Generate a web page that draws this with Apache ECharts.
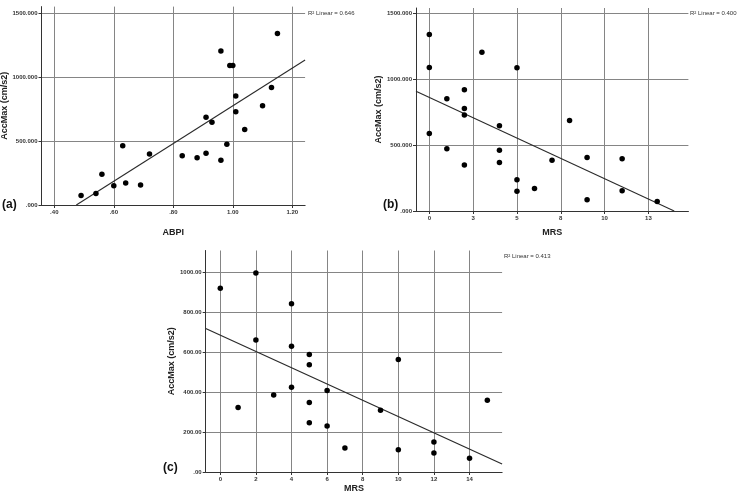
<!DOCTYPE html>
<html>
<head>
<meta charset="utf-8">
<script src="https://cdn.jsdelivr.net/npm/echarts@6/dist/echarts.min.js"></script>
<style>
html,body{margin:0;padding:0;background:#fff;}
#main{width:737px;height:502px;}
</style>
</head>
<body>
<div id="main"></div>
<script>
// (a) ABPI vs AccMax
var abpiX = [0.49, 0.54, 0.56, 0.60, 0.63, 0.64, 0.69, 0.72, 0.83, 0.88, 0.91, 0.91, 0.93, 0.96, 0.96, 0.98, 0.99, 1.00, 1.01, 1.01, 1.04, 1.10, 1.13, 1.15];
var abpiY = [75, 90, 240, 151, 463, 172, 156, 398, 385, 370, 685, 404, 646, 1203, 349, 474, 1089, 1089, 852, 729, 589, 776, 917, 1339];
var fitA = [[0.474, 0], [1.243, 1133]];

// (b) MRS vs AccMax
var mrsBX = [0, 0, 0, 1, 1, 2, 2, 2, 2, 3, 4, 4, 4, 5, 5, 5, 6, 7, 8, 9, 9, 11, 11, 13];
var mrsBY = [1339, 1089, 587, 851, 473, 919, 777, 729, 349, 1205, 646, 461, 367, 1086, 238, 149, 170, 385, 686, 405, 86, 397, 154, 73];
var fitB = [[-0.76, 909], [13.97, 0]];

// (c) MRS vs AccMax
var mrsCX = [0, 1, 2, 2, 3, 4, 4, 4, 5, 5, 5, 5, 6, 6, 7, 9, 10, 10, 12, 12, 14, 15];
var mrsCY = [921, 323, 997, 661, 386, 843, 630, 425, 589, 538, 348, 247, 408, 231, 120, 309, 564, 112, 150, 95, 69, 360];
var fitC = [[-0.82, 719], [15.83, 40]];

var ticksAX = [0.4, 0.6, 0.8, 1.0, 1.2];
var ticksAY = [0, 500, 1000, 1500];
var ticksBX = [0, 2.5, 5, 7.5, 10, 12.5];
var ticksBY = [0, 500, 1000, 1500];
var ticksCX = [0, 2, 4, 6, 8, 10, 12, 14];
var ticksCY = [0, 200, 400, 600, 800, 1000];

var r2 = ['0.646', '0.400', '0.413'];

function pairs(xs, ys) {
    var out = [];
    for (var i = 0; i < xs.length; i++) out.push([xs[i], ys[i]]);
    return out;
}
function dec(d) {
    return function (v) {
        var s = (+v).toFixed(d);
        if (s.indexOf('0.') === 0) s = s.slice(1);
        return s;
    };
}

var font = 'Liberation Sans, Arial, sans-serif';
var gridColor = '#858585';

function xAxis(idx, min, max, ticks, fmt, name, gap) {
    return {
        type: 'value', gridIndex: idx, min: min, max: max,
        name: name, nameLocation: 'middle', nameGap: gap,
        nameTextStyle: {fontFamily: font, fontSize: 9, fontWeight: 'bold', color: '#222'},
        axisLine: {show: true, onZero: false, lineStyle: {color: '#333', width: 1}},
        axisTick: {show: true, length: 3, customValues: ticks, lineStyle: {color: '#333'}},
        axisLabel: {customValues: ticks, formatter: fmt, fontFamily: font, fontSize: 6, fontWeight: 'bold', color: '#333', margin: 4},
        splitLine: {show: true, lineStyle: {color: gridColor, width: 1}}
    };
}
function yAxis(idx, min, max, ticks, fmt, gap) {
    return {
        type: 'value', gridIndex: idx, min: min, max: max,
        name: 'AccMax (cm/s2)', nameLocation: 'middle', nameGap: gap, nameRotate: 90,
        nameTextStyle: {fontFamily: font, fontSize: 9, fontWeight: 'bold', color: '#222'},
        axisLine: {show: true, onZero: false, lineStyle: {color: '#333', width: 1}},
        axisTick: {show: true, length: 3, customValues: ticks, lineStyle: {color: '#333'}},
        axisLabel: {customValues: ticks, formatter: fmt, fontFamily: font, fontSize: 6, fontWeight: 'bold', color: '#333', margin: 4},
        splitLine: {show: true, lineStyle: {color: gridColor, width: 1}}
    };
}
function dots(idx, data) {
    return {type: 'scatter', xAxisIndex: idx, yAxisIndex: idx, data: data,
        symbolSize: 5.5, itemStyle: {color: '#000', opacity: 1}, silent: true, z: 3};
}
function fit(idx, data) {
    return {type: 'line', xAxisIndex: idx, yAxisIndex: idx, data: data,
        symbol: 'none', lineStyle: {color: '#2a2a2a', width: 1.1}, silent: true, z: 2};
}

var chart = echarts.init(document.getElementById('main'));
chart.setOption({
    animation: false,
    backgroundColor: '#fff',
    grid: [
        {left: 41.5, top: 6.6, width: 263.6, height: 198.4, outerBoundsMode: 'none'},
        {left: 416, top: 8, width: 272.4, height: 203, outerBoundsMode: 'none'},
        {left: 205.7, top: 250.5, width: 296.4, height: 221.5, outerBoundsMode: 'none'}
    ],
    xAxis: [
        xAxis(0, 0.357, 1.243, ticksAX, dec(2), 'ABPI', 23),
        xAxis(1, -0.76, 14.78, ticksBX, function (v) { return String(Math.round(v)); }, 'MRS', 17),
        xAxis(2, -0.82, 15.83, ticksCX, function (v) { return String(v); }, 'MRS', 12)
    ],
    yAxis: [
        yAxis(0, 0, 1550, ticksAY, dec(3), 30),
        yAxis(1, 0, 1540, ticksBY, dec(3), 31),
        yAxis(2, 0, 1110, ticksCY, dec(2), 28)
    ],
    series: [
        fit(0, fitA), dots(0, pairs(abpiX, abpiY)),
        fit(1, fitB), dots(1, pairs(mrsBX, mrsBY)),
        fit(2, fitC), dots(2, pairs(mrsCX, mrsCY))
    ],
    graphic: [
        {type: 'text', left: 2, top: 199, style: {text: '(a)', font: 'bold 12px ' + font, fill: '#111'}},
        {type: 'text', left: 383, top: 199, style: {text: '(b)', font: 'bold 12px ' + font, fill: '#111'}},
        {type: 'text', left: 163, top: 462, style: {text: '(c)', font: 'bold 12px ' + font, fill: '#111'}},
        {type: 'text', left: 308, top: 10, style: {text: 'R\u00b2 Linear = ' + r2[0], font: '6px ' + font, fill: '#333'}},
        {type: 'text', left: 690, top: 10, style: {text: 'R\u00b2 Linear = ' + r2[1], font: '6px ' + font, fill: '#333'}},
        {type: 'text', left: 504, top: 253, style: {text: 'R\u00b2 Linear = ' + r2[2], font: '6px ' + font, fill: '#333'}}
    ]
});
</script>
</body>
</html>
